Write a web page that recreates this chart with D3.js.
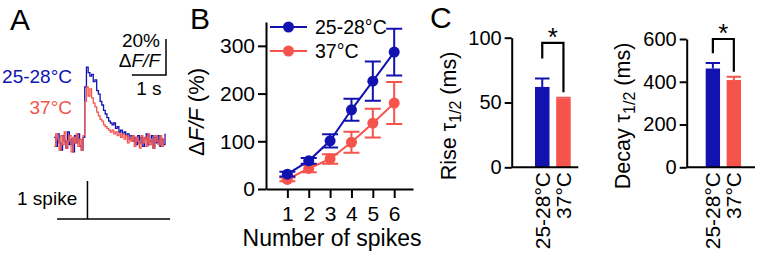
<!DOCTYPE html>
<html><head><meta charset="utf-8">
<script src="https://cdn.jsdelivr.net/npm/d3@7"></script>
<style>
body{margin:0;background:#fff}
text{font-family:"Liberation Sans",Arial,Helvetica,sans-serif;fill:#000}
</style>
</head><body>
<svg id="chart" width="761" height="263"></svg>
<script>
// ---------------- DATA ----------------
const BLUE = "#1212b0", RED = "#f5534b";
// Panel A: example Ca2+ transients (ΔF/F %), sampled every traceDt seconds
const traceDt = 0.05;
const traceRT = [2,-3,4,-1,-5,3,0,-4,5,-2,1,-6,3,-1,4,-3,-5,2,
  30,41,38,36,37,33,34,28,26,22,20,17,15,13,11,10,9,10,7,8,5,6,4,5,3,4,1,3,0,
  2,-2,3,-1,2,-3,1,4,-2,0,3,-4,2,-1,3,-3,1,-2,4];
const trace37 = [-3,4,1,-5,3,-2,5,-4,0,3,-6,2,-1,4,-3,1,-5,3,
  22,30,25,29,24,21,19,16,14,12,11,9,8,7,6,5,6,4,5,3,4,2,4,1,3,-1,2,0,3,
  -3,2,0,-4,3,-1,2,-3,4,-2,1,-4,3,0,-2,3,-3,1,2];
const spikeTimes = [0.98];
const stimWindow = [0.09, 3.4];
const scaleBarDFF = 20, scaleBarTime = 1;

// Panel B: ΔF/F vs number of spikes
const spikeCounts = [1,2,3,4,5,6];
const dffRT = [31,59,101,166,226,287];
const dffRTerr = [5,6,14,23,41,49];
const dff37 = [20,43,63,98,138,180];
const dff37err = [4,8,10,22,30,44];
const bYTicks = [0,100,200,300];

// Panel C: rise and decay half-times
const tempGroups = ["25-28°C","37°C"];
const riseMean = [62,53], riseErr = [6.5,0.6];
const decayMean = [462,408], decayErr = [26,15];
const riseTicks = [0,50,100], decayTicks = [0,200,400,600];
const riseBracket = [84,96,58];     // left leg bottom, top, right leg bottom
const decayBracket = [533,600,447];

// ---------------- DRAW ----------------
const svg = d3.select("#chart");
svg.append("rect").attr("width",761).attr("height",263).attr("fill","#fff");

function panelLabel(t,x,y){svg.append("text").attr("x",x).attr("y",y).attr("font-size",30).text(t);}
panelLabel("A",10,30); panelLabel("B",190,29); panelLabel("C",430,28);

// ----- Panel A -----
const xA = d3.scaleLinear().domain([0,3.25]).range([54,165]);
const yA = d3.scaleLinear().domain([0,20]).range([141,105]);
const lineA = d3.line().x((d,i)=>xA(i*traceDt)).y(d=>yA(d)).curve(d3.curveStepAfter);
svg.append("path").datum(traceRT).attr("d",lineA).attr("fill","none").attr("stroke",BLUE).attr("stroke-width",1.3);
svg.append("path").datum(trace37).attr("d",lineA).attr("fill","none").attr("stroke",RED).attr("stroke-width",1.3);

svg.append("text").attr("x",72).attr("y",83).attr("text-anchor","end").attr("font-size",19).style("fill",BLUE).text("25-28°C");
svg.append("text").attr("x",72).attr("y",114).attr("text-anchor","end").attr("font-size",19).style("fill",RED).text("37°C");

// scale bars
const sbX = 166, sbY = 75;
const sbH = yA(0)-yA(scaleBarDFF), sbW = xA(scaleBarTime)-xA(0);
svg.append("path").attr("d",`M${sbX},${sbY-sbH}V${sbY}H${sbX-sbW}`).attr("fill","none").attr("stroke","#000").attr("stroke-width",1.5);
svg.append("text").attr("x",160).attr("y",47).attr("text-anchor","end").attr("font-size",19).text("20%");
const dt = svg.append("text").attr("x",160).attr("y",67).attr("text-anchor","end").attr("font-size",19);
dt.append("tspan").text("Δ"); dt.append("tspan").attr("font-style","italic").text("F/F");
svg.append("text").attr("x",sbX-sbW/2).attr("y",95).attr("text-anchor","middle").attr("font-size",19).text("1 s");

// spike trace
const spikeBase = 219, spikeH = 38;
svg.append("line").attr("x1",xA(stimWindow[0])).attr("x2",xA(stimWindow[1])).attr("y1",spikeBase).attr("y2",spikeBase).attr("stroke","#000").attr("stroke-width",1.5);
svg.selectAll(".spk").data(spikeTimes).enter().append("line")
  .attr("x1",d=>xA(d)).attr("x2",d=>xA(d)).attr("y1",spikeBase).attr("y2",spikeBase-spikeH)
  .attr("stroke","#000").attr("stroke-width",1.5);
svg.append("text").attr("x",17).attr("y",205).attr("font-size",19).text("1 spike");

// ----- Panel B -----
const xB = d3.scaleLinear().domain([0,6.88]).range([266,413]);
const yB = d3.scaleLinear().domain([0,350]).range([189,22]);
const gB = svg.append("g");
const axB = gB.append("g").attr("transform","translate(266,0)")
  .call(d3.axisLeft(yB).tickValues(bYTicks).tickSize(8).tickSizeOuter(0).tickPadding(3));
const axBx = gB.append("g").attr("transform","translate(0,189)")
  .call(d3.axisBottom(xB).tickValues(spikeCounts).tickFormat(d3.format("d")).tickSize(9).tickSizeOuter(0).tickPadding(8));
[axB,axBx].forEach(a=>{a.selectAll("path,line").attr("stroke","#000").attr("stroke-width",2);
  a.selectAll("text").attr("font-size",21).attr("font-family",null).style("fill","#000");});
axBx.selectAll("text").attr("dy","0.71em");

function series(g, means, errs, color){
  const line = d3.line().x((d,i)=>xB(spikeCounts[i])).y(d=>yB(d));
  g.append("path").datum(means).attr("d",line).attr("fill","none").attr("stroke",color).attr("stroke-width",2);
  const eb = g.selectAll(null).data(means).enter().append("g");
  eb.append("path").attr("d",(d,i)=>{const x=xB(spikeCounts[i]),y1=yB(d-errs[i]),y2=yB(d+errs[i]);
      return `M${x},${y1}V${y2}M${x-8},${y1}H${x+8}M${x-8},${y2}H${x+8}`;})
    .attr("stroke",color).attr("stroke-width",2).attr("fill","none");
  eb.append("circle").attr("cx",(d,i)=>xB(spikeCounts[i])).attr("cy",d=>yB(d)).attr("r",5.5).attr("fill",color);
}
series(gB, dff37, dff37err, RED);
series(gB, dffRT, dffRTerr, BLUE);

// legend
[[BLUE,"25-28°C",27],[RED,"37°C",51]].forEach(([c,t,y])=>{
  gB.append("line").attr("x1",270).attr("x2",307).attr("y1",y).attr("y2",y).attr("stroke",c).attr("stroke-width",2);
  gB.append("circle").attr("cx",288.5).attr("cy",y).attr("r",5.5).attr("fill",c);
  gB.append("text").attr("x",315).attr("y",y+7).attr("font-size",19.5).text(t);
});
const ylB = gB.append("text").attr("transform","translate(204,112) rotate(-90)").attr("text-anchor","middle").attr("font-size",22);
ylB.append("tspan").text("Δ"); ylB.append("tspan").attr("font-style","italic").text("F/F"); ylB.append("tspan").text(" (%)");
gB.append("text").attr("x",332).attr("y",246).attr("text-anchor","middle").attr("font-size",23).text("Number of spikes");

// ----- Panel C -----
function barPanel(opts){
  const {axisX, axisEnd, barRange, domain, ticks, means, errs, bracket, label, labelX, labelY} = opts;
  const y = d3.scaleLinear().domain(domain).range([167.3, domain[1]===100?37.7:39]);
  const x = d3.scaleBand().domain(tempGroups).range(barRange).paddingInner(0.316).paddingOuter(0);
  const g = svg.append("g");
  const ax = g.append("g").attr("transform",`translate(${axisX},0)`)
    .call(d3.axisLeft(y).tickValues(ticks).tickSize(7).tickSizeOuter(0).tickPadding(3));
  ax.selectAll("path,line").attr("stroke","#000").attr("stroke-width",2);
  ax.selectAll("text").attr("font-size",20).attr("font-family",null).style("fill","#000");
  const colors=[BLUE,RED];
  g.selectAll(null).data(means).enter().append("rect")
    .attr("x",(d,i)=>x(tempGroups[i])).attr("width",x.bandwidth())
    .attr("y",d=>y(d)).attr("height",d=>y(0)-y(d)).attr("fill",(d,i)=>colors[i]);
  g.selectAll(null).data(means).enter().append("path")
    .attr("d",(d,i)=>{const cx=x(tempGroups[i])+x.bandwidth()/2, y1=y(d), y2=y(d+errs[i]), hw=x.bandwidth()/2;
      return `M${cx},${y1}V${y2}M${cx-hw},${y2}H${cx+hw}`;})
    .attr("stroke",(d,i)=>colors[i]).attr("stroke-width",2).attr("fill","none");
  g.append("line").attr("x1",axisX).attr("x2",axisEnd).attr("y1",y(0)).attr("y2",y(0)).attr("stroke","#000").attr("stroke-width",2);
  // significance bracket
  const lx = x(tempGroups[0])+x.bandwidth()/2, rx = x(tempGroups[1])+x.bandwidth()/2;
  g.append("path").attr("d",`M${lx},${y(bracket[0])}V${y(bracket[1])}H${rx}V${y(bracket[2])}`)
    .attr("fill","none").attr("stroke","#000").attr("stroke-width",2.2);
  g.append("text").attr("x",(lx+rx)/2).attr("y",y(bracket[1])+3).attr("text-anchor","middle").attr("font-size",26).text("*");
  // category labels
  g.selectAll(null).data(tempGroups).enter().append("text")
    .attr("transform",d=>`translate(${x(d)+x.bandwidth()/2},172) rotate(-90)`)
    .attr("text-anchor","end").attr("dy","0.36em").attr("font-size",21).text(d=>d);
  // y label
  const yl = g.append("text").attr("transform",`translate(${labelX},${labelY}) rotate(-90)`)
    .attr("text-anchor","middle").attr("font-size",21.5);
  yl.append("tspan").text(label+" τ");
  yl.append("tspan").attr("font-size",16).attr("dy",5).text("1/2");
  yl.append("tspan").attr("dy",-5).text(" (ms)");
}
barPanel({axisX:511.7, axisEnd:578.3, barRange:[535,570.7], domain:[0,100], ticks:riseTicks,
  means:riseMean, errs:riseErr, bracket:riseBracket, label:"Rise", labelX:456, labelY:116});
barPanel({axisX:686.7, axisEnd:755, barRange:[705.7,741], domain:[0,600], ticks:decayTicks,
  means:decayMean, errs:decayErr, bracket:decayBracket, label:"Decay", labelX:630, labelY:116});
</script>
</body></html>
